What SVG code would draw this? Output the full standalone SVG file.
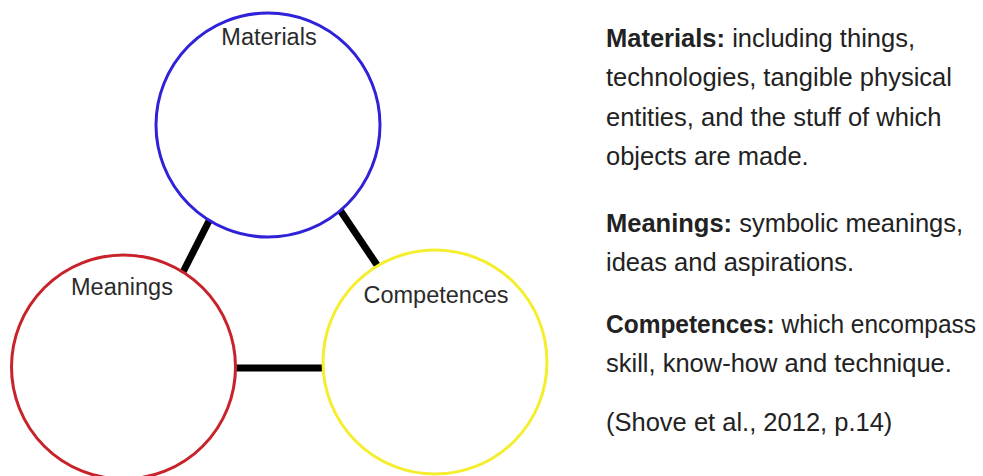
<svg xmlns="http://www.w3.org/2000/svg" width="983" height="476" viewBox="0 0 983 476">
<style>
.node{fill:#ffffff;stroke-width:3}
.lbl{font-family:"Liberation Sans",Arial,sans-serif;font-size:23.5px;fill:#2b2b2b;text-anchor:middle}
.conn{stroke:#000000;stroke-width:7;stroke-linecap:butt}
.desc{font-family:"Liberation Sans",Arial,sans-serif;font-size:25.5px;fill:#222222}
.b{font-weight:bold}
</style>
<rect width="983" height="476" fill="#ffffff"/>
<g id="connectors">
<line class="conn" x1="210" y1="219" x2="182" y2="274"/>
<line class="conn" x1="340" y1="210" x2="377" y2="265"/>
<line class="conn" x1="235" y1="368" x2="323" y2="368"/>
</g>
<g id="materials">
<circle class="node" cx="268" cy="125" r="112" stroke="#2f22d8"/>
<text class="lbl" x="269" y="45">Materials</text>
</g>
<g id="meanings">
<circle class="node" cx="123.5" cy="367" r="112" stroke="#c8232a"/>
<text class="lbl" x="122" y="295">Meanings</text>
</g>
<g id="competences">
<circle class="node" cx="435" cy="362" r="112" stroke="#f4ee2e"/>
<text class="lbl" x="436" y="303">Competences</text>
</g>
<g id="description">
<text class="desc" x="606" y="47"><tspan class="b">Materials:</tspan> including things,</text>
<text class="desc" x="606" y="86">technologies, tangible physical</text>
<text class="desc" x="606" y="126">entities, and the stuff of which</text>
<text class="desc" x="606" y="165">objects are made.</text>
<text class="desc" x="606" y="232"><tspan class="b">Meanings:</tspan> symbolic meanings,</text>
<text class="desc" x="606" y="271">ideas and aspirations.</text>
<text class="desc" x="606" y="333" textLength="370" lengthAdjust="spacingAndGlyphs"><tspan class="b">Competences:</tspan> which encompass</text>
<text class="desc" x="606" y="372">skill, know-how and technique.</text>
<text class="desc" x="606" y="431">(Shove et al., 2012, p.14)</text>
</g>
</svg>
